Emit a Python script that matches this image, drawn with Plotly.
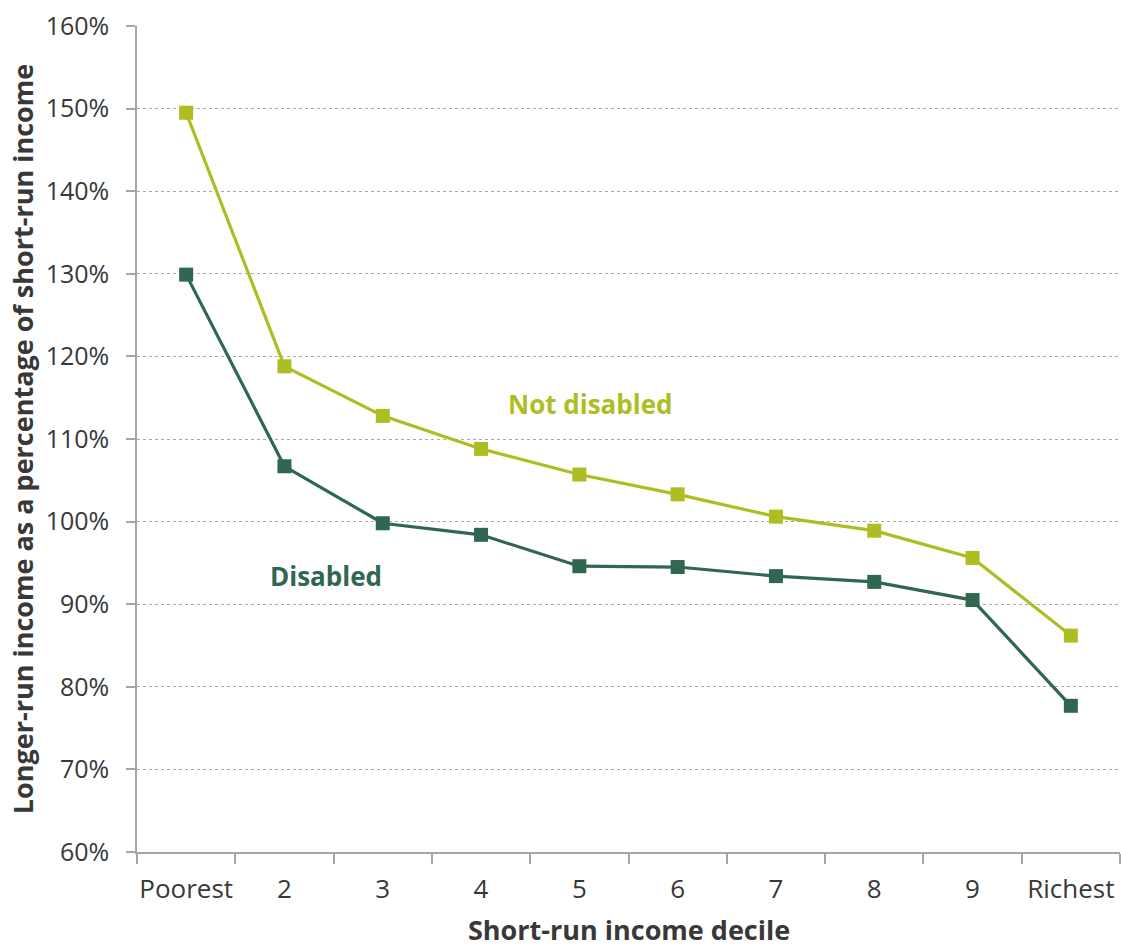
import plotly.graph_objects as go

deciles = ["Poorest", "2", "3", "4", "5", "6", "7", "8", "9", "Richest"]
not_disabled = [149.5, 118.8, 112.8, 108.8, 105.7, 103.3, 100.6, 98.9, 95.6, 86.2]
disabled = [129.9, 106.7, 99.8, 98.4, 94.6, 94.5, 93.4, 92.7, 90.5, 77.7]
y_ticks = [60, 70, 80, 90, 100, 110, 120, 130, 140, 150, 160]

LIGHT = "#AEBD21"
DARK = "#2F6750"
FONT = "Open Sans"
TXT = "#383838"

fig = go.Figure()
fig.add_trace(go.Scatter(
    x=deciles, y=not_disabled, mode="lines+markers", name="Not disabled",
    line=dict(color=LIGHT, width=3.2),
    marker=dict(symbol="square", size=14, color=LIGHT),
))
fig.add_trace(go.Scatter(
    x=deciles, y=disabled, mode="lines+markers", name="Disabled",
    line=dict(color=DARK, width=3.2),
    marker=dict(symbol="square", size=14, color=DARK),
))

fig.add_annotation(x=4.11, y=114.2, text="<b>Not disabled</b>", showarrow=False,
                   font=dict(family=FONT, size=26, color=LIGHT), xanchor="center", yanchor="middle")
fig.add_annotation(x=1.42, y=93.4, text="<b>Disabled</b>", showarrow=False,
                   font=dict(family=FONT, size=26, color=DARK), xanchor="center", yanchor="middle")
# x-axis title placed as paper-referenced text
fig.add_annotation(x=0.5, y=-0.094, xref="paper", yref="paper",
                   text="<b>Short-run income decile</b>", showarrow=False,
                   font=dict(family=FONT, size=27, color=TXT), xanchor="center", yanchor="middle")

fig.update_layout(
    width=1121, height=944,
    margin=dict(l=137, r=1, t=26, b=92, autoexpand=False),
    paper_bgcolor="white", plot_bgcolor="white",
    showlegend=False,
    font=dict(family=FONT, size=25, color=TXT),
    xaxis=dict(
        type="category", range=[-0.5, 9.5],
        tickson="boundaries", ticks="outside", ticklen=10, tickcolor="#a6a6a6", tickwidth=1.5,
        showline=True, linecolor="#a6a6a6", linewidth=1.5,
        showgrid=False, zeroline=False,
        tickangle=0,
        ticklabelstandoff=13,
        tickfont=dict(family=FONT, size=26, color=TXT),
    ),
    yaxis=dict(
        range=[60, 160], tickvals=y_ticks, ticktext=[f"{v}%" for v in y_ticks],
        ticks="outside", ticklen=9, tickcolor="#a6a6a6", tickwidth=1.5,
        showline=True, linecolor="#a6a6a6", linewidth=1.5,
        showgrid=True, gridcolor="#aaaaaa", gridwidth=1, griddash="dot",
        zeroline=False,
        ticklabelstandoff=12,
        tickfont=dict(family=FONT, size=25, color=TXT),
        title=dict(text="<b>Longer-run income as a percentage of short-run income</b>", standoff=4,
                   font=dict(family=FONT, size=27, color=TXT)),
    ),
)

fig.write_html("out.html", config={"displayModeBar": False},
               post_script="document.body.style.margin='0';")
